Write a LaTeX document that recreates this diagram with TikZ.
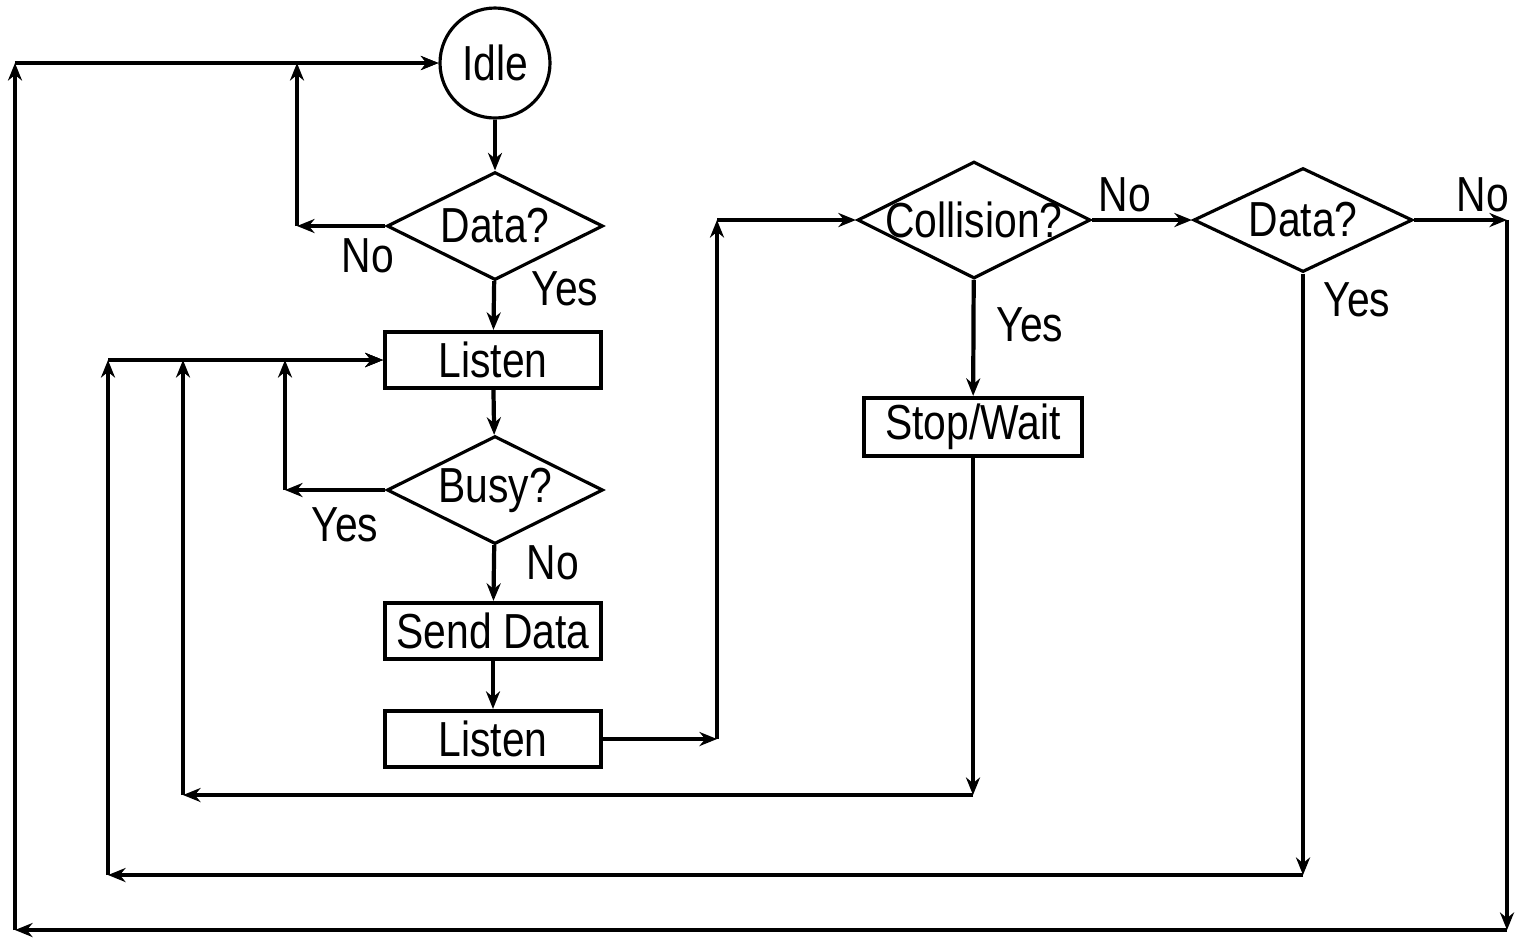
\documentclass[tikz,border=0pt]{standalone}
\usepackage{fontspec}
\setmainfont{Liberation Sans}[FakeStretch=0.83]
\usetikzlibrary{shapes.geometric,arrows.meta}

\begin{document}
\begin{tikzpicture}[
  box/.style={draw,line width=1.2pt,minimum width=2.16cm,minimum height=0.56cm,inner sep=0pt},
  decision/.style={draw,diamond,line width=0.9pt,minimum width=2.16cm,minimum height=1.08cm,inner sep=0pt},
  flow/.style={line width=1.2pt,-{Stealth[length=5pt,width=4pt]}},
  lbl/.style={inner sep=0pt},
  font=\fontsize{14}{16}\selectfont]
\useasboundingbox (0,0) rectangle (15.16,-9.37);
% left column
\node[draw,circle,line width=0.9pt,minimum size=1.1cm,inner sep=0pt] (idle) at (4.95,-0.63) {Idle};
\node[decision,label=center:Data?] (data1) at (4.95,-2.26) {};
\node[box] (listen1) at (4.93,-3.60) {Listen};
\node[decision,label=center:Busy?] (busy) at (4.95,-4.90) {};
\node[box] (send) at (4.93,-6.31) {Send Data};
\node[box] (listen2) at (4.93,-7.39) {Listen};
% right part
\node[decision,minimum width=2.33cm,minimum height=1.17cm,label=center:Collision?] (coll) at (9.74,-2.20) {};
\node[box,minimum width=2.18cm,minimum height=0.58cm] (stop) at (9.73,-4.27) {Stop/Wait};
\node[decision,minimum width=2.19cm,minimum height=1.04cm,label=center:Data?] (data2) at (13.03,-2.20) {};
% corners
\coordinate (noA) at (2.97,-2.26);
\coordinate (noB) at (2.97,-0.63);
\coordinate (yesA) at (2.85,-4.90);
\coordinate (yesB) at (2.85,-3.60);
\coordinate (goA) at (7.17,-7.39);
\coordinate (goB) at (7.17,-2.20);
\coordinate (stA) at (9.73,-7.95);
\coordinate (stB) at (1.83,-7.95);
\coordinate (stC) at (1.83,-3.60);
\coordinate (dyA) at (13.03,-8.75);
\coordinate (dyB) at (1.08,-8.75);
\coordinate (dyC) at (1.08,-3.60);
\coordinate (dnA) at (15.07,-2.20);
\coordinate (dnB) at (15.07,-9.30);
\coordinate (dnC) at (0.15,-9.30);
\coordinate (dnD) at (0.15,-0.63);
% main line
\draw[flow] (idle) -- (data1);
\draw[flow] (data1) -- (listen1);
\draw[flow] (listen1) -- (busy);
\draw[flow] (busy) -- (send);
\draw[flow] (send) -- (listen2);
\draw[flow] (listen2) -- (goA);
\draw[flow] (goA) -- (goB);
\draw[flow] (goB) -- (coll.west);
\draw[flow] (coll) -- (stop);
\draw[flow] (coll.east) -- (data2.west);
% back to Idle
\draw[flow] (data1.west) -- (noA);
\draw[flow] (noA) -- (noB);
\draw[flow] (noB) -- (idle.west);
\draw[flow] (data2.east) -- (dnA);
\draw[flow] (dnA) -- (dnB);
\draw[flow] (dnB) -- (dnC);
\draw[flow] (dnC) -- (dnD);
\draw[flow] (dnD) -- (idle.west);
% back to Listen
\draw[flow] (busy.west) -- (yesA);
\draw[flow] (yesA) -- (yesB);
\draw[flow] (yesB) -- (listen1.west);
\draw[flow] (stop) -- (stA);
\draw[flow] (stA) -- (stB);
\draw[flow] (stB) -- (stC);
\draw[flow] (stC) -- (listen1.west);
\draw[flow] (data2.south) -- (dyA);
\draw[flow] (dyA) -- (dyB);
\draw[flow] (dyB) -- (dyC);
\draw[flow] (dyC) -- (listen1.west);
% labels
\node[lbl] (t1) at (3.68,-2.56) {No};
\node[lbl] (t2) at (5.65,-2.89) {Yes};
\node[lbl] (t3) at (3.45,-5.25) {Yes};
\node[lbl] (t4) at (5.53,-5.63) {No};
\node[lbl] (t5) at (10.30,-3.25) {Yes};
\node[lbl] (t6) at (11.25,-1.95) {No};
\node[lbl] (t7) at (13.57,-3.00) {Yes};
\node[lbl] (t8) at (14.83,-1.95) {No};
\end{tikzpicture}
\end{document}
